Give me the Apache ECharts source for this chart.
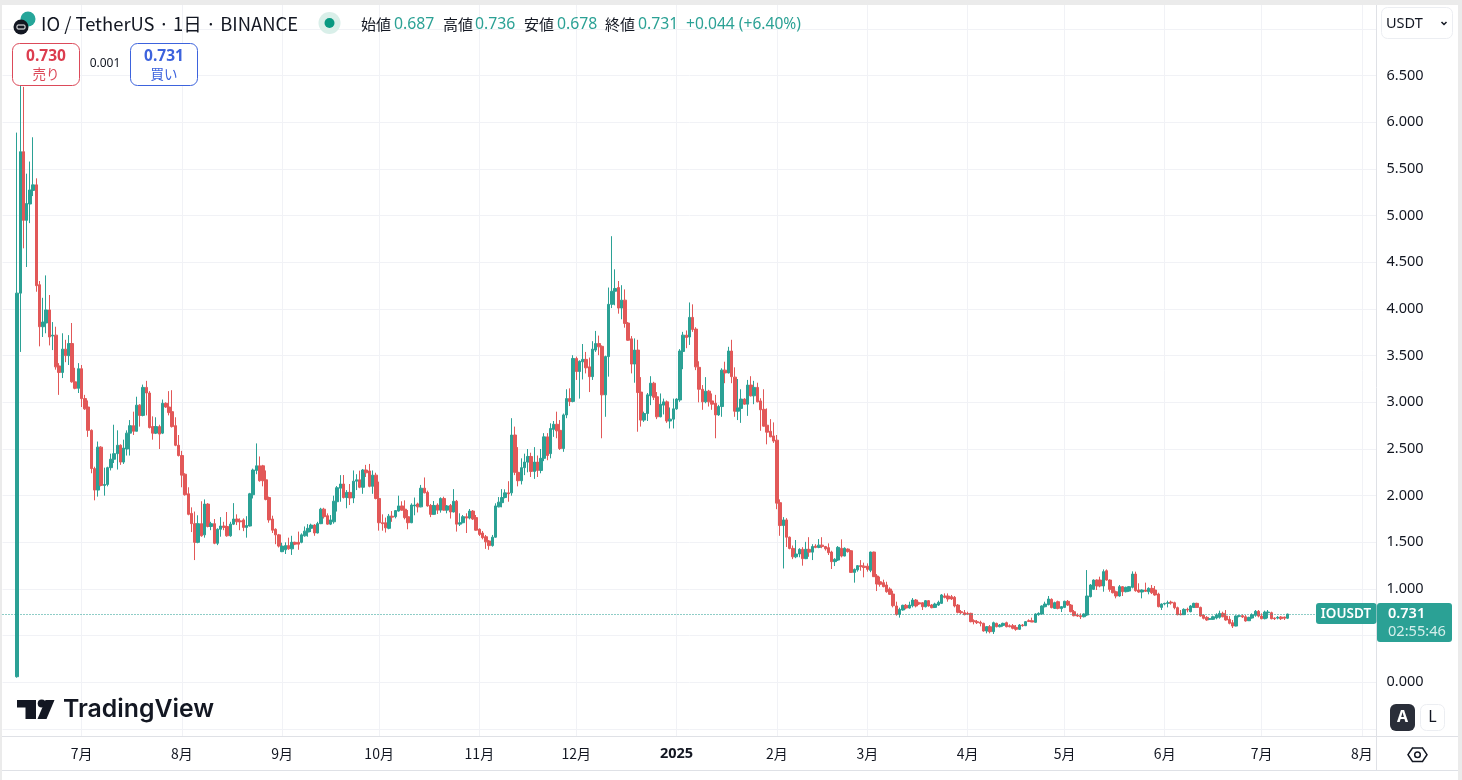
<!DOCTYPE html>
<html><head><meta charset="utf-8">
<style>html,body{margin:0;padding:0;background:#fff;overflow:hidden}#c{width:1462px;height:780px}</style>
<script src="https://cdn.jsdelivr.net/npm/echarts@6/dist/echarts.min.js"></script>
</head><body><div id="c"></div>
<script>
// Each row: [open, close, low, high], one per day in the month.
const jun24=[[0.06,4.17,0.05,5.89],[4.17,5.685,3.54,6.42],[5.685,4.95,4.65,6.38],[4.95,5.13,4.45,5.45],[5.125,5.275,4.92,5.58],[5.27,5.33,5.21,5.84],[5.33,4.25,4.185,5.40],[4.26,3.81,3.60,4.30],[3.81,3.86,3.70,4.12],[3.85,3.99,3.74,4.36],[3.99,3.70,3.61,4.15],[3.71,3.72,3.56,3.86],[3.72,3.38,3.35,3.81],[3.39,3.32,3.08,3.42],[3.32,3.57,3.26,3.74],[3.57,3.50,3.43,3.67],[3.50,3.63,3.40,3.72],[3.63,3.22,3.21,3.85],[3.22,3.15,3.14,3.37],[3.15,3.36,3.10,3.42]];
const jul24=[[3.36,3.04,2.95,3.40],[3.04,2.93,2.92,3.08],[2.95,2.70,2.63,3.02],[2.70,2.29,2.24,2.71],[2.29,2.06,1.95,2.31],[2.06,2.52,1.99,2.58],[2.52,2.11,2.10,2.53],[2.11,2.12,2.0,2.30],[2.12,2.30,2.1,2.31],[2.30,2.39,2.27,2.45],[2.39,2.45,2.35,2.76],[2.45,2.54,2.28,2.70],[2.54,2.36,2.33,2.55],[2.36,2.51,2.34,2.60],[2.50,2.67,2.43,2.70],[2.67,2.75,2.43,2.81],[2.75,2.69,2.65,2.90],[2.69,2.97,2.69,3.06],[2.97,2.86,2.74,2.98],[2.86,3.16,2.85,3.19],[3.16,3.10,2.86,3.23],[3.10,2.73,2.72,3.12],[2.74,2.67,2.60,2.85],[2.67,2.74,2.66,2.84],[2.74,2.66,2.50,2.76],[2.67,2.99,2.66,3.03],[2.99,2.95,2.94,3.0],[2.95,2.89,2.86,3.12],[2.90,2.74,2.73,3.13],[2.75,2.54,2.53,2.84],[2.54,2.43,2.42,2.65]];
const aug24=[[2.43,2.22,2.09,2.48],[2.23,2.01,2.0,2.24],[2.02,1.80,1.79,2.09],[1.81,1.70,1.61,1.875],[1.70,1.50,1.31,1.83],[1.50,1.70,1.49,1.79],[1.70,1.57,1.56,1.94],[1.58,1.91,1.55,1.96],[1.91,1.67,1.66,1.92],[1.67,1.70,1.63,1.72],[1.70,1.49,1.48,1.75],[1.49,1.64,1.47,1.65],[1.64,1.675,1.56,1.77],[1.675,1.66,1.63,1.72],[1.67,1.57,1.56,1.825],[1.57,1.695,1.56,1.72],[1.695,1.75,1.685,1.92],[1.75,1.72,1.685,1.80],[1.73,1.72,1.63,1.757],[1.74,1.66,1.62,1.757],[1.66,1.68,1.55,1.78],[1.675,2.02,1.67,2.03],[2.01,2.275,1.97,2.29],[2.27,2.32,2.23,2.56],[2.32,2.16,2.15,2.42],[2.32,2.16,2.10,2.33],[2.17,1.96,1.95,2.27],[1.98,1.74,1.71,1.99],[1.75,1.63,1.60,1.785],[1.64,1.58,1.48,1.65],[1.58,1.46,1.445,1.59]];
const sep24=[[1.40,1.46,1.395,1.496],[1.42,1.465,1.375,1.50],[1.465,1.43,1.42,1.55],[1.43,1.50,1.365,1.57],[1.50,1.48,1.47,1.507],[1.50,1.48,1.42,1.615],[1.50,1.58,1.49,1.596],[1.57,1.62,1.56,1.67],[1.61,1.65,1.56,1.695],[1.65,1.685,1.61,1.70],[1.685,1.60,1.57,1.695],[1.60,1.70,1.596,1.72],[1.70,1.855,1.695,1.87],[1.855,1.775,1.755,1.87],[1.785,1.695,1.69,1.81],[1.695,1.74,1.685,1.792],[1.72,1.94,1.70,2.0],[1.935,2.085,1.83,2.103],[2.08,2.125,1.935,2.22],[2.125,1.98,1.97,2.221],[1.98,2.035,1.865,2.06],[2.035,1.975,1.90,2.125],[1.975,2.155,1.92,2.27],[2.155,2.17,2.06,2.23],[2.17,2.09,2.08,2.268],[2.09,2.275,2.02,2.286],[2.275,2.245,2.20,2.33],[2.265,2.10,2.09,2.34],[2.10,2.22,2.02,2.27],[2.22,1.97,1.96,2.246]];
const oct24=[[1.97,1.71,1.625,2.15],[1.71,1.70,1.625,1.80],[1.71,1.655,1.605,1.765],[1.65,1.78,1.64,1.804],[1.78,1.77,1.72,1.835],[1.775,1.84,1.757,1.846],[1.835,1.89,1.829,2.0],[1.89,1.845,1.839,1.94],[1.855,1.765,1.746,1.95],[1.775,1.71,1.64,1.846],[1.71,1.90,1.705,1.918],[1.89,1.90,1.79,1.98],[1.91,1.88,1.82,1.925],[1.88,2.08,1.875,2.115],[2.08,2.03,2.025,2.195],[2.035,1.89,1.882,2.054],[1.895,1.80,1.77,1.911],[1.80,1.895,1.795,1.943],[1.90,1.845,1.804,1.918],[1.845,1.97,1.818,1.982],[1.97,1.845,1.84,1.989],[1.845,1.89,1.811,1.90],[1.895,1.825,1.755,1.911],[1.825,1.94,1.82,2.07],[1.94,1.695,1.615,1.954],[1.695,1.71,1.675,1.811],[1.71,1.775,1.704,1.793],[1.775,1.76,1.60,1.811],[1.76,1.835,1.746,1.857],[1.835,1.75,1.739,1.846],[1.765,1.63,1.625,1.793]];
const nov24=[[1.64,1.585,1.568,1.65],[1.60,1.55,1.532,1.621],[1.56,1.505,1.43,1.579],[1.515,1.465,1.42,1.525],[1.465,1.555,1.454,1.579],[1.555,1.89,1.55,1.918],[1.88,1.93,1.875,1.985],[1.925,1.98,1.875,2.07],[1.98,2.03,1.971,2.068],[2.03,2.02,1.935,2.155],[2.03,2.65,2.0,2.83],[2.65,2.25,2.22,2.74],[2.25,2.16,2.10,2.52],[2.16,2.30,2.12,2.40],[2.30,2.36,2.22,2.45],[2.36,2.42,2.25,2.50],[2.42,2.26,2.20,2.46],[2.26,2.36,2.18,2.52],[2.36,2.27,2.20,2.43],[2.27,2.40,2.24,2.50],[2.40,2.63,2.37,2.67],[2.63,2.43,2.38,2.67],[2.45,2.72,2.40,2.775],[2.71,2.765,2.63,2.80],[2.765,2.695,2.615,2.90],[2.70,2.505,2.49,2.81],[2.505,2.865,2.47,2.88],[2.865,3.04,2.83,3.14],[3.04,3.01,2.96,3.15],[3.01,3.47,3.0,3.505]];
const dec24=[[3.47,3.33,3.24,3.49],[3.33,3.44,3.04,3.45],[3.435,3.46,3.245,3.625],[3.46,3.37,3.31,3.54],[3.38,3.275,3.11,3.48],[3.275,3.57,3.24,3.655],[3.56,3.63,3.54,3.765],[3.63,3.595,3.505,3.715],[3.60,3.08,2.615,3.61],[3.08,3.49,2.845,3.50],[3.49,4.05,3.275,4.23],[4.05,4.19,4.01,4.78],[4.19,4.22,4.04,4.425],[4.23,4.01,3.95,4.30],[4.01,4.095,3.89,4.255],[4.095,3.845,3.80,4.21],[3.85,3.665,3.66,3.86],[3.68,3.41,3.31,3.71],[3.41,3.56,3.21,3.685],[3.56,3.105,2.685,3.67],[3.11,2.81,2.74,3.27],[2.81,2.88,2.79,2.90],[2.88,3.08,2.80,3.10],[3.07,3.205,2.97,3.28],[3.205,3.055,3.025,3.22],[3.06,2.845,2.82,3.11],[2.845,2.98,2.84,3.095],[2.97,3.005,2.87,3.04],[3.005,2.80,2.78,3.02],[2.80,2.82,2.72,2.945],[2.82,2.93,2.72,3.04]];
const jan25=[[2.93,3.035,2.92,3.044],[3.025,3.55,3.005,3.57],[3.545,3.72,3.355,3.755],[3.72,3.695,3.58,3.77],[3.70,3.91,3.615,4.07],[3.91,3.78,3.755,4.05],[3.785,3.38,3.345,3.805],[3.375,3.14,3.0,3.44],[3.14,3.005,2.92,3.185],[3.005,3.12,2.99,3.27],[3.12,3.005,2.955,3.134],[3.015,2.98,2.92,3.095],[2.99,2.865,2.615,3.08],[2.865,2.955,2.855,2.973],[2.955,3.345,2.845,3.365],[3.345,3.315,3.205,3.435],[3.315,3.55,3.31,3.595],[3.55,3.275,3.205,3.67],[3.27,2.905,2.845,3.375],[2.905,2.94,2.81,3.25],[2.935,3.035,2.78,3.14],[3.035,2.98,2.975,3.044],[2.98,3.185,2.855,3.24],[3.185,3.07,3.062,3.28],[3.07,3.16,2.98,3.23],[3.16,3.005,3.0,3.21],[3.015,2.92,2.695,3.044],[2.925,2.745,2.74,3.14],[2.755,2.68,2.55,2.935],[2.69,2.63,2.627,2.82],[2.64,2.585,2.565,2.785]];
const feb25=[[2.595,1.92,1.855,2.65],[1.925,1.68,1.57,1.96],[1.68,1.74,1.22,1.77],[1.74,1.555,1.45,1.759],[1.555,1.435,1.425,1.562],[1.435,1.345,1.32,1.466],[1.345,1.375,1.33,1.525],[1.375,1.425,1.34,1.437],[1.425,1.325,1.25,1.448],[1.325,1.425,1.32,1.505],[1.425,1.395,1.345,1.555],[1.395,1.455,1.31,1.48],[1.46,1.445,1.437,1.48],[1.445,1.47,1.437,1.535],[1.47,1.455,1.437,1.555],[1.455,1.43,1.412,1.462],[1.443,1.389,1.364,1.489],[1.396,1.293,1.214,1.41],[1.293,1.318,1.246,1.33],[1.31,1.446,1.30,1.46],[1.436,1.353,1.339,1.532],[1.353,1.436,1.35,1.446],[1.428,1.40,1.39,1.435],[1.41,1.178,1.175,1.418],[1.178,1.21,1.068,1.22],[1.205,1.25,1.186,1.257],[1.25,1.24,1.196,1.31],[1.245,1.23,1.125,1.282]];
const mar25=[[1.245,1.21,1.186,1.275],[1.20,1.396,1.18,1.40],[1.396,1.132,1.13,1.40],[1.139,1.053,0.978,1.16],[1.078,1.05,1.025,1.132],[1.068,1.025,1.018,1.10],[1.043,0.971,0.96,1.078],[1.0,0.943,0.936,1.018],[0.946,0.821,0.803,0.982],[0.818,0.728,0.714,0.864],[0.728,0.782,0.693,0.80],[0.775,0.825,0.768,0.832],[0.825,0.796,0.782,0.839],[0.796,0.828,0.789,0.864],[0.82,0.882,0.803,0.903],[0.882,0.818,0.803,0.893],[0.853,0.839,0.828,0.864],[0.853,0.81,0.775,0.86],[0.81,0.875,0.803,0.882],[0.875,0.818,0.811,0.882],[0.828,0.80,0.793,0.839],[0.803,0.839,0.796,0.853],[0.828,0.857,0.818,0.875],[0.846,0.936,0.839,0.946],[0.925,0.911,0.90,0.953],[0.925,0.893,0.864,0.953],[0.918,0.893,0.882,0.936],[0.911,0.818,0.803,0.925],[0.828,0.75,0.739,0.839],[0.757,0.746,0.732,0.775],[0.746,0.725,0.718,0.775]];
const apr25=[[0.739,0.732,0.721,0.757],[0.739,0.65,0.643,0.746],[0.66,0.65,0.621,0.675],[0.65,0.639,0.625,0.668],[0.643,0.632,0.60,0.66],[0.632,0.55,0.543,0.639],[0.55,0.596,0.525,0.603],[0.596,0.543,0.525,0.614],[0.543,0.639,0.518,0.65],[0.632,0.596,0.589,0.639],[0.596,0.614,0.589,0.625],[0.61,0.632,0.596,0.639],[0.639,0.596,0.589,0.65],[0.607,0.596,0.589,0.621],[0.607,0.579,0.568,0.625],[0.589,0.568,0.553,0.614],[0.568,0.614,0.561,0.625],[0.614,0.607,0.596,0.625],[0.607,0.65,0.603,0.657],[0.66,0.653,0.646,0.675],[0.66,0.646,0.646,0.693],[0.643,0.732,0.639,0.739],[0.725,0.739,0.714,0.75],[0.732,0.818,0.725,0.825],[0.81,0.839,0.803,0.864],[0.832,0.893,0.825,0.925],[0.889,0.80,0.793,0.90],[0.793,0.853,0.786,0.864],[0.864,0.793,0.782,0.875],[0.79,0.811,0.753,0.818]];
const may25=[[0.803,0.868,0.796,0.875],[0.868,0.828,0.818,0.882],[0.828,0.757,0.75,0.839],[0.757,0.714,0.707,0.775],[0.721,0.71,0.70,0.739],[0.714,0.703,0.678,0.739],[0.703,0.732,0.696,0.739],[0.721,0.925,0.71,1.203],[0.918,1.043,0.91,1.053],[0.996,1.096,0.989,1.103],[1.096,1.032,0.989,1.103],[1.096,1.032,1.018,1.132],[1.032,1.186,0.971,1.21],[1.196,1.096,1.089,1.21],[1.096,0.996,0.971,1.103],[1.025,0.96,0.953,1.032],[0.971,0.925,0.90,0.982],[0.925,1.025,0.918,1.043],[1.025,0.971,0.925,1.032],[0.971,1.018,0.964,1.025],[0.978,1.025,0.97,1.03],[1.018,1.16,1.007,1.189],[1.16,0.982,0.971,1.186],[0.989,0.968,0.96,1.061],[0.968,0.989,0.90,0.996],[0.989,0.975,0.968,1.068],[0.971,1.007,0.943,1.018],[1.007,0.96,0.946,1.043],[0.989,0.936,0.928,1.032],[0.946,0.811,0.803,0.96],[0.803,0.839,0.775,0.846]];
const jun25=[[0.839,0.846,0.825,0.853],[0.846,0.853,0.803,0.875],[0.86,0.85,0.832,0.875],[0.853,0.80,0.782,0.864],[0.80,0.725,0.718,0.811],[0.732,0.725,0.718,0.775],[0.725,0.782,0.721,0.793],[0.782,0.775,0.75,0.80],[0.757,0.818,0.75,0.828],[0.803,0.846,0.796,0.853],[0.846,0.803,0.80,0.853],[0.803,0.71,0.703,0.811],[0.721,0.686,0.675,0.728],[0.696,0.668,0.66,0.71],[0.675,0.682,0.668,0.689],[0.675,0.703,0.668,0.714],[0.689,0.721,0.675,0.739],[0.696,0.739,0.682,0.768],[0.739,0.703,0.696,0.757],[0.71,0.668,0.66,0.775],[0.675,0.632,0.621,0.71],[0.639,0.603,0.582,0.668],[0.603,0.71,0.60,0.718],[0.707,0.714,0.696,0.721],[0.714,0.70,0.689,0.728],[0.703,0.657,0.65,0.721],[0.66,0.696,0.657,0.703],[0.689,0.725,0.682,0.739],[0.718,0.761,0.703,0.775],[0.761,0.71,0.696,0.775]];
const jul25=[[0.71,0.682,0.675,0.739],[0.682,0.753,0.675,0.768],[0.746,0.753,0.686,0.775],[0.746,0.682,0.675,0.757],[0.689,0.682,0.668,0.696],[0.689,0.696,0.675,0.71],[0.70,0.682,0.668,0.71],[0.70,0.687,0.668,0.703],[0.687,0.731,0.678,0.736]];

const firstDate='2024-06-07', bandCount=425, leadingBlankDays=4;
const tickDates=['2024-07-01','2024-08-01','2024-09-01','2024-10-01','2024-11-01','2024-12-01','2025-01-01','2025-02-01','2025-03-01','2025-04-01','2025-05-01','2025-06-01','2025-07-01','2025-08-01'];
const tickLabels=['7月','8月','9月','10月','11月','12月','2025','2月','3月','4月','5月','6月','7月','8月'];
const lastPrice=0.731;

const UP='#2ba195', DOWN='#e25858', GRID='#f1f2f6', LINE='#dfe1e6', INK='#131722', FONT='"Noto Sans","Noto Sans CJK JP",sans-serif';
const JP='"Noto Sans CJK JP","Noto Sans",sans-serif';
const categories=[];
for(let i=0;i<bandCount;i++){const d=new Date(Date.parse(firstDate+'T00:00:00Z')+i*864e5);categories.push(d.toISOString().slice(0,10));}
const blanks=[];for(let i=0;i<leadingBlankDays;i++)blanks.push(['-','-','-','-']);
const candles=blanks.concat(jun24,jul24,aug24,sep24,oct24,nov24,dec24,jan25,feb25,mar25,apr25,may25,jun25,jul25);
const isTick=(i,v)=>tickDates.indexOf(v)>=0;

const G=[];
const rect=(x,y,w,h,fill,stroke,r)=>G.push({type:'rect',z:100,shape:{x,y,width:w,height:h,r:r||0},style:{fill:fill||'none',stroke:stroke||'none',lineWidth:1}});
const line=(x1,y1,x2,y2,c)=>G.push({type:'line',z:100,shape:{x1,y1,x2,y2},style:{stroke:c||LINE,lineWidth:1}});
const circ=(x,y,r,fill,z)=>G.push({type:'circle',z:z||100,shape:{cx:x,cy:y,r},style:{fill}});
const txt=(x,y,text,fill,font,align)=>G.push({type:'text',z:110,x,y,style:{text,fill,font,textAlign:align||'left',textVerticalAlign:'middle'}});
const poly=(pts,fill,stroke)=>G.push({type:'polygon',z:110,shape:{points:pts},style:{fill:fill||'none',stroke:stroke||'none',lineWidth:1.5}});

// page frame
rect(0,0,1462,5,'#ebebeb');rect(0,0,2,780,'#ebebeb');rect(1458,0,4,780,'#ebebeb');
line(2,736.5,1458,736.5);line(2,770.5,1458,770.5);line(1376.5,5,1376.5,770);
// header
circ(28,19,7.5,'#26a69a',101);circ(21,27,7.5,'#131722',102);
G.push({type:'rect',z:103,shape:{x:17,y:25,width:8,height:4,r:1},style:{fill:'none',stroke:'#fff',lineWidth:1}});
txt(41,24,'IO / TetherUS · 1日 · BINANCE',INK,'18.4px '+JP);
circ(329.5,23,11,'#d9efe9');circ(329.5,23,5,'#089981',101);
const LBL='15px '+JP, NUM='15.8px '+FONT;
txt(361,24,'始値',INK,LBL);txt(394,24,'0.687',UP,NUM);
txt(443,24,'高値',INK,LBL);txt(475,24,'0.736',UP,NUM);
txt(524,24,'安値',INK,LBL);txt(557,24,'0.678',UP,NUM);
txt(605,24,'終値',INK,LBL);txt(638,24,'0.731',UP,NUM);
txt(686,25,'+0.044 (+6.40%)',UP,'15.6px '+FONT);
// bid / ask
rect(12.5,43.5,67,42,'#fff','#dc4a5a',7);
txt(46,57,'0.730','#dc3d4f','bold 15.5px '+FONT,'center');txt(46,74,'売り','#dc4a5a','13.5px '+JP,'center');
txt(105,64,'0.001',INK,'12px '+FONT,'center');
rect(130.5,43.5,67,42,'#fff','#3d63dd',7);
txt(164,57,'0.731','#3d63dd','bold 15.5px '+FONT,'center');txt(164,74,'買い','#3d63dd','13.5px '+JP,'center');
// currency selector
rect(1381.5,7.5,71,31,'#fff','#eceef2',6);
txt(1386,24,'USDT',INK,'14.5px '+FONT);
G.push({type:'polyline',z:110,shape:{points:[[1441.5,22],[1444,24.5],[1446.5,22]]},style:{stroke:INK,lineWidth:1.5,fill:'none'}});
// last price tags
rect(1316,603,60.5,21,UP,null,3);
txt(1346,614,'IOUSDT','#fff','600 13.5px '+FONT,'center');
rect(1377,603,75,39,UP,null,3);
txt(1388,614,'0.731','#fff','600 14.5px '+FONT);
txt(1388,632,'02:55:46','#d4eeeb','14.6px '+FONT);
// watermark
poly([[17,700],[36,700],[36,719],[25.5,719],[25.5,707.5],[17,707.5]],INK);
circ(41.7,703.5,4,INK,110);
poly([[45.5,700],[54.5,700],[46.5,719],[37.5,719]],INK);
txt(63,710,'TradingView',INK,'600 24.8px Inter,sans-serif');
// A / L
rect(1390,704,25,27,'#2a2e39',null,6);txt(1402.5,717.5,'A','#fff','bold 16px '+FONT,'center');
rect(1420.5,704.5,24,26,'#fff','#eceef2',6);txt(1432.5,717.5,'L',INK,'16px '+FONT,'center');
// settings
poly([[1408,754.7],[1412.5,748],[1422.5,748],[1427,754.7],[1422.5,761.5],[1412.5,761.5]],'none',INK);
G.push({type:'circle',z:110,shape:{cx:1417.5,cy:754.7,r:2.8},style:{fill:'none',stroke:INK,lineWidth:1.5}});

const option={
  animation:false,backgroundColor:'#fff',
  grid:[
    {left:2.5,width:1374,top:5,height:731,containLabel:false},
    {left:2.5,width:1374,top:29,height:700,containLabel:false}
  ],
  xAxis:[
    {gridIndex:0,type:'category',data:categories,boundaryGap:true,axisLine:{show:false},axisTick:{show:false},
     splitLine:{show:true,alignWithLabel:true,interval:isTick,lineStyle:{color:GRID,width:1}},
     axisLabel:{interval:isTick,hideOverlap:false,margin:11,fontSize:14,fontFamily:JP,color:INK,
       formatter:v=>{const l=tickLabels[tickDates.indexOf(v)];return l==='2025'?'{b|'+l+'}':l;},
       rich:{b:{fontWeight:'bold',fontSize:14.5,fontFamily:FONT,color:INK}}}},
    {gridIndex:1,type:'category',data:categories,boundaryGap:true,show:false}
  ],
  yAxis:[
    {gridIndex:0,type:'value',min:0,max:1,show:false,splitLine:{show:false}},
    {gridIndex:1,type:'value',position:'right',min:-0.5,max:7,interval:0.5,scale:false,
     axisLine:{show:false},axisTick:{show:false},
     splitLine:{show:true,lineStyle:{color:GRID,width:1}},
     axisLabel:{margin:10,fontSize:14.5,fontFamily:FONT,color:INK,padding:[2,0,0,0],
       formatter:v=>(v<0||v>6.5)?'':v.toFixed(3)}}
  ],
  series:[{
    type:'candlestick',xAxisIndex:1,yAxisIndex:1,data:candles,barWidth:3,clip:true,
    itemStyle:{color:UP,color0:DOWN,borderColor:UP,borderColor0:DOWN,borderColorDoji:UP,borderWidth:1},
    markLine:{silent:true,symbol:'none',label:{show:false},animation:false,
      lineStyle:{color:'#1f9a8e',type:[1,2],width:1,opacity:1},data:[{yAxis:lastPrice}]}
  }],
  graphic:G
};
const chart=echarts.init(document.getElementById('c'),null,{renderer:'canvas',width:1462,height:780});
chart.setOption(option);
</script></body></html>
